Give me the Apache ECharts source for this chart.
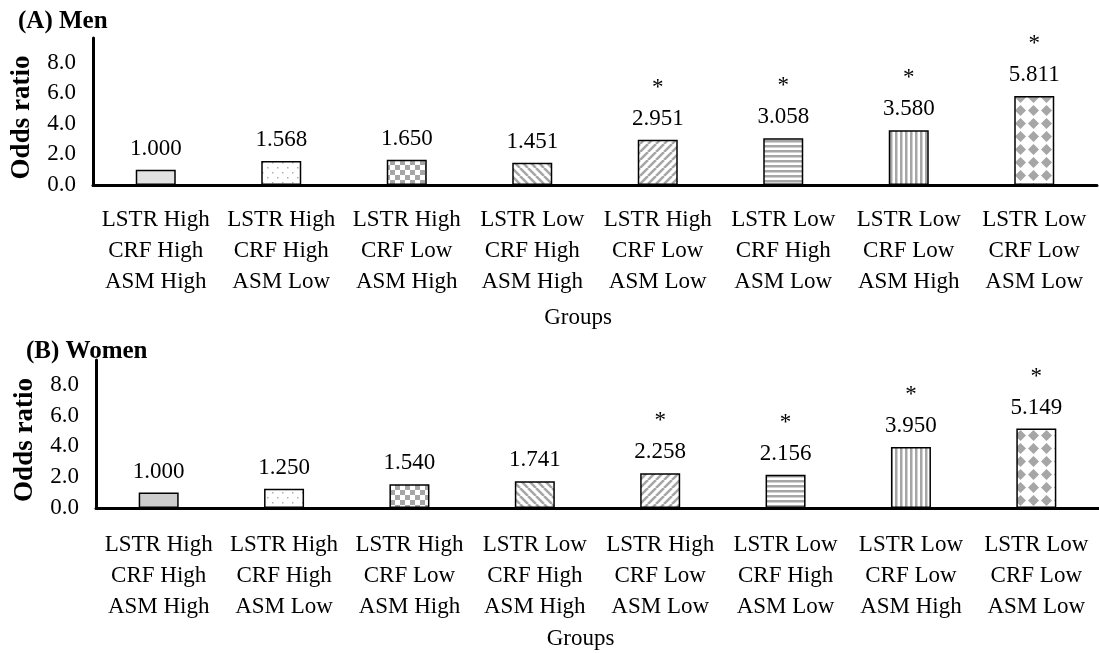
<!DOCTYPE html>
<html><head><meta charset="utf-8">
<script src="https://cdn.jsdelivr.net/npm/echarts@6/dist/echarts.min.js"></script>
<style>html,body{margin:0;padding:0;background:#fff}#c{width:1099px;height:653px}</style>
</head><body><div id="c"></div>
<script>
const categories = [
  'LSTR High\nCRF High\nASM High','LSTR High\nCRF High\nASM Low','LSTR High\nCRF Low\nASM High','LSTR Low\nCRF High\nASM High',
  'LSTR High\nCRF Low\nASM Low','LSTR Low\nCRF High\nASM Low','LSTR Low\nCRF Low\nASM High','LSTR Low\nCRF Low\nASM Low'
];
const menOR = [1.000, 1.568, 1.650, 1.451, 2.951, 3.058, 3.580, 5.811];
const womenOR = [1.000, 1.250, 1.540, 1.741, 2.258, 2.156, 3.950, 5.149];
const menSig = [false, false, false, false, true, true, true, true];
const womenSig = [false, false, false, false, true, true, true, true];
const yTicks = [0, 2, 4, 6, 8];

const FONT = 'Liberation Serif';
const G = '#a6a6a6';

function mk(w, h, draw) {
  const c = document.createElement('canvas'); c.width = w; c.height = h;
  const x = c.getContext('2d'); x.fillStyle = '#fff'; x.fillRect(0, 0, w, h); draw(x); return c;
}
function solid(col) { return mk(4, 4, x => { x.fillStyle = col; x.fillRect(0, 0, 4, 4); }); }
const pDots = mk(10, 10, x => { x.fillStyle = '#b0b0b0'; x.fillRect(2, 2, 1.5, 1.5); x.fillRect(7, 7, 1.5, 1.5); });
const pCheck = mk(10, 10, x => { x.fillStyle = G; x.fillRect(0, 0, 5, 5); x.fillRect(5, 5, 5, 5); });
const pBack = mk(8, 8, x => { x.strokeStyle = G; x.lineWidth = 2.5; for (let k = -8; k <= 16; k += 8) { x.beginPath(); x.moveTo(k, 0); x.lineTo(k + 8, 8); x.stroke(); } });
const pFwd = mk(8, 8, x => { x.strokeStyle = G; x.lineWidth = 2.5; for (let k = -8; k <= 16; k += 8) { x.beginPath(); x.moveTo(k, 8); x.lineTo(k + 8, 0); x.stroke(); } });
const pHor = mk(5, 5, x => { x.fillStyle = G; x.fillRect(0, 0, 5, 2.5); });
const pVer = mk(5, 5, x => { x.fillStyle = G; x.fillRect(0, 0, 2.5, 5); });
const pDia = mk(13, 13, x => { x.fillStyle = G; const r = 5.5; const d = (cx, cy) => { x.beginPath(); x.moveTo(cx, cy - r); x.lineTo(cx + r, cy); x.lineTo(cx, cy + r); x.lineTo(cx - r, cy); x.closePath(); x.fill(); };
  d(6.5, 6.5); });

function patterns(first) {
  return [solid(first), pDots, pCheck, pBack, pFwd, pHor, pVer, pDia].map(img => ({ image: img, repeat: 'repeat' }));
}
const menPat = patterns('#e2e2e2');
const womenPat = patterns('#cdcdcd');

function buildData(vals, sig, pats) {
  return vals.map((v, i) => ({
    value: v, sig: sig[i],
    itemStyle: { color: pats[i], borderColor: '#000', borderWidth: 1.5 }
  }));
}
const labelCfg = {
  show: true, position: 'top', distance: 8,
  formatter: p => (p.data.sig ? '{s|*}\n' : '') + '{v|' + p.value.toFixed(3) + '}',
  rich: {
    s: { fontFamily: FONT, fontSize: 23, color: '#000', lineHeight: 36, height: 36 },
    v: { fontFamily: FONT, fontSize: 23, color: '#000', lineHeight: 26 }
  }
};
function xAx(gi, margin, gap) {
  return {
    type: 'category', gridIndex: gi, data: categories,
    axisLine: { lineStyle: { color: '#000', width: 3 } }, axisTick: { show: false },
    axisLabel: { interval: 0, fontFamily: FONT, fontSize: 23, color: '#000', lineHeight: 31, margin: margin },
    name: 'Groups', nameLocation: 'middle', nameGap: gap,
    nameTextStyle: { fontFamily: FONT, fontSize: 23, color: '#000', padding: [0, 34, 0, 0] }
  };
}
function yAx(gi) {
  return {
    type: 'value', gridIndex: gi, min: 0, max: 9.6, interval: 2,
    splitLine: { show: false }, axisTick: { show: false },
    axisLine: { show: true, lineStyle: { color: '#000', width: 3 } },
    axisLabel: { fontFamily: FONT, fontSize: 23, color: '#000', margin: 17,
      formatter: v => yTicks.includes(v) ? v.toFixed(1) : '' },
    name: 'Odds ratio', nameLocation: 'middle', nameGap: 57,
    nameTextStyle: { fontFamily: FONT, fontSize: 27, fontWeight: 'bold', color: '#000', padding: [0, 12, 0, 0] }
  };
}
const chart = echarts.init(document.getElementById('c'), null, { renderer: 'canvas' });
chart.setOption({
  animation: false,
  backgroundColor: '#fff',
  title: [
    { text: '(A) Men', left: 13, top: 4, textStyle: { fontFamily: FONT, fontSize: 25, fontWeight: 'bold', color: '#000' } },
    { text: '(B) Women', left: 21, top: 334, textStyle: { fontFamily: FONT, fontSize: 25, fontWeight: 'bold', color: '#000' } }
  ],
  grid: [
    { left: 93, right: 2, top: 38, height: 147, outerBoundsMode: 'none' },
    { left: 96, right: 0, top: 360, height: 148, outerBoundsMode: 'none' }
  ],
  xAxis: [xAx(0, 19, 121), xAx(1, 21, 119)],
  yAxis: [yAx(0), yAx(1)],
  series: [
    { type: 'bar', xAxisIndex: 0, yAxisIndex: 0, barWidth: 40, data: buildData(menOR, menSig, menPat), label: labelCfg },
    { type: 'bar', xAxisIndex: 1, yAxisIndex: 1, barWidth: 40, data: buildData(womenOR, womenSig, womenPat), label: labelCfg }
  ]
});
</script></body></html>
